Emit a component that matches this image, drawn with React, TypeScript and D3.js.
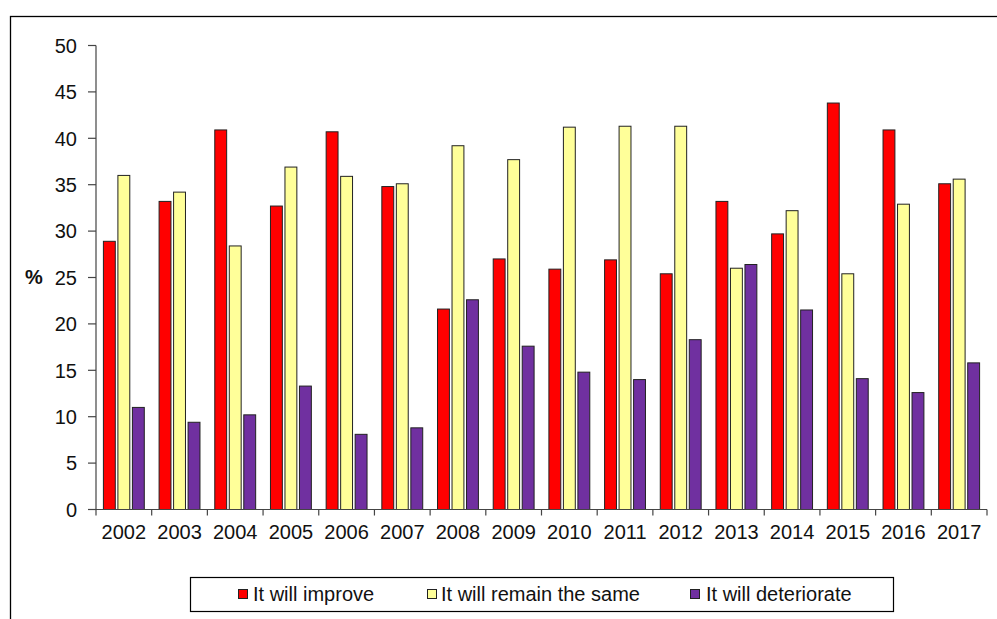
import React from "react";
import * as d3 from "d3";

const years = ["2002","2003","2004","2005","2006","2007","2008","2009","2010","2011","2012","2013","2014","2015","2016","2017"];
const improve = [28.9,33.2,40.9,32.7,40.7,34.8,21.6,27.0,25.9,26.9,25.4,33.2,29.7,43.8,40.9,35.1];
const same = [36.0,34.2,28.4,36.9,35.9,35.1,39.2,37.7,41.2,41.3,41.3,26.0,32.2,25.4,32.9,35.6];
const deteriorate = [11.0,9.4,10.2,13.3,8.1,8.8,22.6,17.6,14.8,14.0,18.3,26.4,21.5,14.1,12.6,15.8];
const seriesNames = ["It will improve","It will remain the same","It will deteriorate"];
const seriesColors = ["#FF0000","#FFFF99","#7030A0"];
const yTicks = [0,5,10,15,20,25,30,35,40,45,50];

const W = 997, H = 619;
const left = 96, right = 987, top = 45.5, bottom = 509.5;
const FONT = "'Liberation Sans', Arial, sans-serif";

export default function App() {
  const seriesData = [improve, same, deteriorate];
  const x0 = d3.scaleBand<string>().domain(years).range([left, right]).padding(0);
  const y = d3.scaleLinear().domain([0, 50]).range([bottom, top]);
  const bw = x0.bandwidth();
  const half = 21.75;
  const x1 = d3.scaleBand<number>().domain([0,1,2]).range([bw/2 - half, bw/2 + half]).paddingInner(0.18).paddingOuter(0.09);

  const legendItems = [
    { sx: 238, tx: 253 },
    { sx: 427, tx: 441 },
    { sx: 690, tx: 706 },
  ];

  return (
    <svg width={W} height={H} style={{ position: "absolute", left: 0, top: 0 }} fontFamily={FONT}>
      <rect x={10.5} y={16.5} width={1100} height={800} fill="white" stroke="#000" strokeWidth={1.3} />
      {years.map((yr, i) => (
        <g key={yr} transform={`translate(${x0(yr)},0)`}>
          {seriesData.map((s, k) => (
            <rect key={k} x={x1(k)} y={y(s[i])} width={x1.bandwidth()} height={y(0) - y(s[i])}
              fill={seriesColors[k]} stroke="#222" strokeWidth={1} />
          ))}
        </g>
      ))}
      <line x1={left} x2={left} y1={top} y2={bottom} stroke="#444" strokeWidth={1.2} />
      {yTicks.map(t => (
        <g key={t}>
          <line x1={left - 8} x2={left} y1={y(t)} y2={y(t)} stroke="#444" strokeWidth={1.2} />
          <text x={77} y={y(t)} dy="0.36em" textAnchor="end" fontSize={20} fill="#111">{t}</text>
        </g>
      ))}
      <line x1={left} x2={right} y1={bottom} y2={bottom} stroke="#444" strokeWidth={1.2} />
      {d3.range(years.length + 1).map(i => {
        const xx = left + i * bw;
        return <line key={i} x1={xx} x2={xx} y1={bottom} y2={bottom + 6} stroke="#444" strokeWidth={1.2} />;
      })}
      {years.map(yr => (
        <text key={yr} x={(x0(yr) as number) + bw / 2} y={539} textAnchor="middle" fontSize={20} fill="#111">{yr}</text>
      ))}
      <text x={34} y={277} dy="0.36em" textAnchor="middle" fontSize={20} fontWeight="bold" fill="#111">%</text>
      <rect x={190.5} y={577.5} width={703} height={34} fill="white" stroke="#000" strokeWidth={1.2} />
      {seriesNames.map((n, k) => (
        <g key={n}>
          <rect x={legendItems[k].sx + 0.5} y={589.5} width={9} height={9} fill={seriesColors[k]} stroke="#222" strokeWidth={1} />
          <text x={legendItems[k].tx} y={594} dy="0.36em" fontSize={20} fill="#111">{n}</text>
        </g>
      ))}
    </svg>
  );
}
